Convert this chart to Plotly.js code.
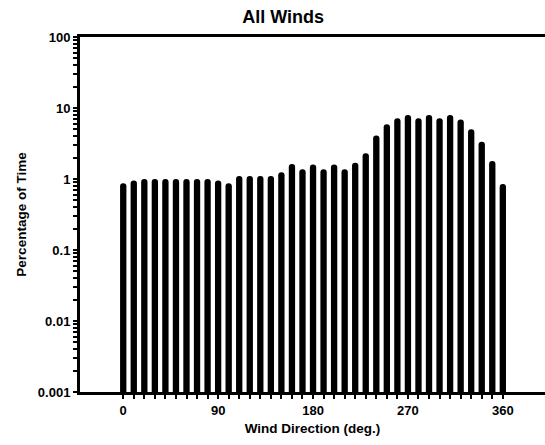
<!DOCTYPE html>
<html>
<head>
<meta charset="utf-8">
<script src="https://cdn.plot.ly/plotly-3.0.1.min.js"></script>
<style>
  html, body { margin: 0; padding: 0; background: #fff; }
  #chart { width: 545px; height: 445px; }
</style>
</head>
<body>
<div id="chart"></div>
<script>
// Wind direction bins (degrees) and share of time in each bin (%)
const directions = [0, 10, 20, 30, 40, 50, 60, 70, 80, 90,
                    100, 110, 120, 130, 140, 150, 160, 170, 180, 190,
                    200, 210, 220, 230, 240, 250, 260, 270, 280, 290,
                    300, 310, 320, 330, 340, 350, 360];
const percentTime = [0.87, 0.95, 1.0, 1.0, 1.0, 1.0, 1.0, 1.0, 1.0, 0.95,
                     0.87, 1.1, 1.1, 1.1, 1.1, 1.24, 1.62, 1.37, 1.6, 1.37,
                     1.6, 1.37, 1.7, 2.3, 4.1, 5.9, 7.2, 8.0, 7.2, 8.0,
                     7.2, 8.0, 6.9, 5.0, 3.35, 1.8, 0.85];

// Axis labels
const xLabelValues = [0, 90, 180, 270, 360];
const xLabelText = ['0', '90', '180', '270', '360'];
const yDecadeValues = [0.001, 0.01, 0.1, 1, 10, 100];
const yDecadeText = ['0.001', '0.01', '0.1', '1', '10', '100'];

// small tick every 10 degrees, label only on the quarter points
const xTickVals = directions.slice();
const xTickText = xTickVals.map(v => {
  const i = xLabelValues.indexOf(v);
  return i >= 0 ? xLabelText[i] : '';
});

// log ticks: labelled decades plus unlabelled 2..9 steps inside each decade
const yTickVals = [];
const yTickText = [];
yDecadeValues.forEach((d, i) => {
  yTickVals.push(d);
  yTickText.push(yDecadeText[i]);
  if (i < yDecadeValues.length - 1) {
    for (let k = 2; k <= 9; k++) {
      yTickVals.push(+(d * k).toPrecision(3));
      yTickText.push('');
    }
  }
});

const font = { family: 'Liberation Sans, Arial, sans-serif', color: '#000' };

const bars = {
  type: 'bar',
  x: directions,
  y: percentTime,
  width: 6,
  marker: { color: '#000', cornerradius: 3, line: { width: 0 } },
  hoverinfo: 'x+y'
};

const layout = {
  width: 545,
  height: 445,
  margin: { l: 80, r: 0, t: 37, b: 53, pad: 0 },
  paper_bgcolor: '#fff',
  plot_bgcolor: '#fff',
  showlegend: false,
  title: {
    text: '<b>All Winds</b>',
    font: Object.assign({}, font, { size: 18 }),
    x: 0.437, xref: 'paper', xanchor: 'center',
    y: 0.962, yref: 'container', yanchor: 'middle'
  },
  xaxis: {
    range: [-41, 400],
    tickmode: 'array',
    tickvals: xTickVals,
    ticktext: xTickText,
    ticks: 'outside',
    ticklen: 4,
    tickwidth: 2,
    tickcolor: '#000',
    showline: true,
    linecolor: '#000',
    linewidth: 3,
    mirror: true,
    showgrid: false,
    zeroline: false,
    tickfont: Object.assign({}, font, { size: 13, weight: 'bold' }),
    title: {
      text: '<b>Wind Direction (deg.)</b>',
      font: Object.assign({}, font, { size: 13.5 }),
      standoff: 7
    }
  },
  yaxis: {
    type: 'log',
    range: [-3, 2],
    tickmode: 'array',
    tickvals: yTickVals,
    ticktext: yTickText,
    ticks: 'outside',
    ticklen: 4,
    tickwidth: 2,
    tickcolor: '#000',
    showline: true,
    linecolor: '#000',
    linewidth: 3,
    showgrid: false,
    zeroline: false,
    tickfont: Object.assign({}, font, { size: 13, weight: 'bold' }),
    title: {
      text: '<b>Percentage of Time</b>',
      font: Object.assign({}, font, { size: 13.5 }),
      standoff: 9
    }
  },
  bargap: 0.4
};

Plotly.newPlot('chart', [bars], layout, { staticPlot: true, displayModeBar: false });
</script>
</body>
</html>
